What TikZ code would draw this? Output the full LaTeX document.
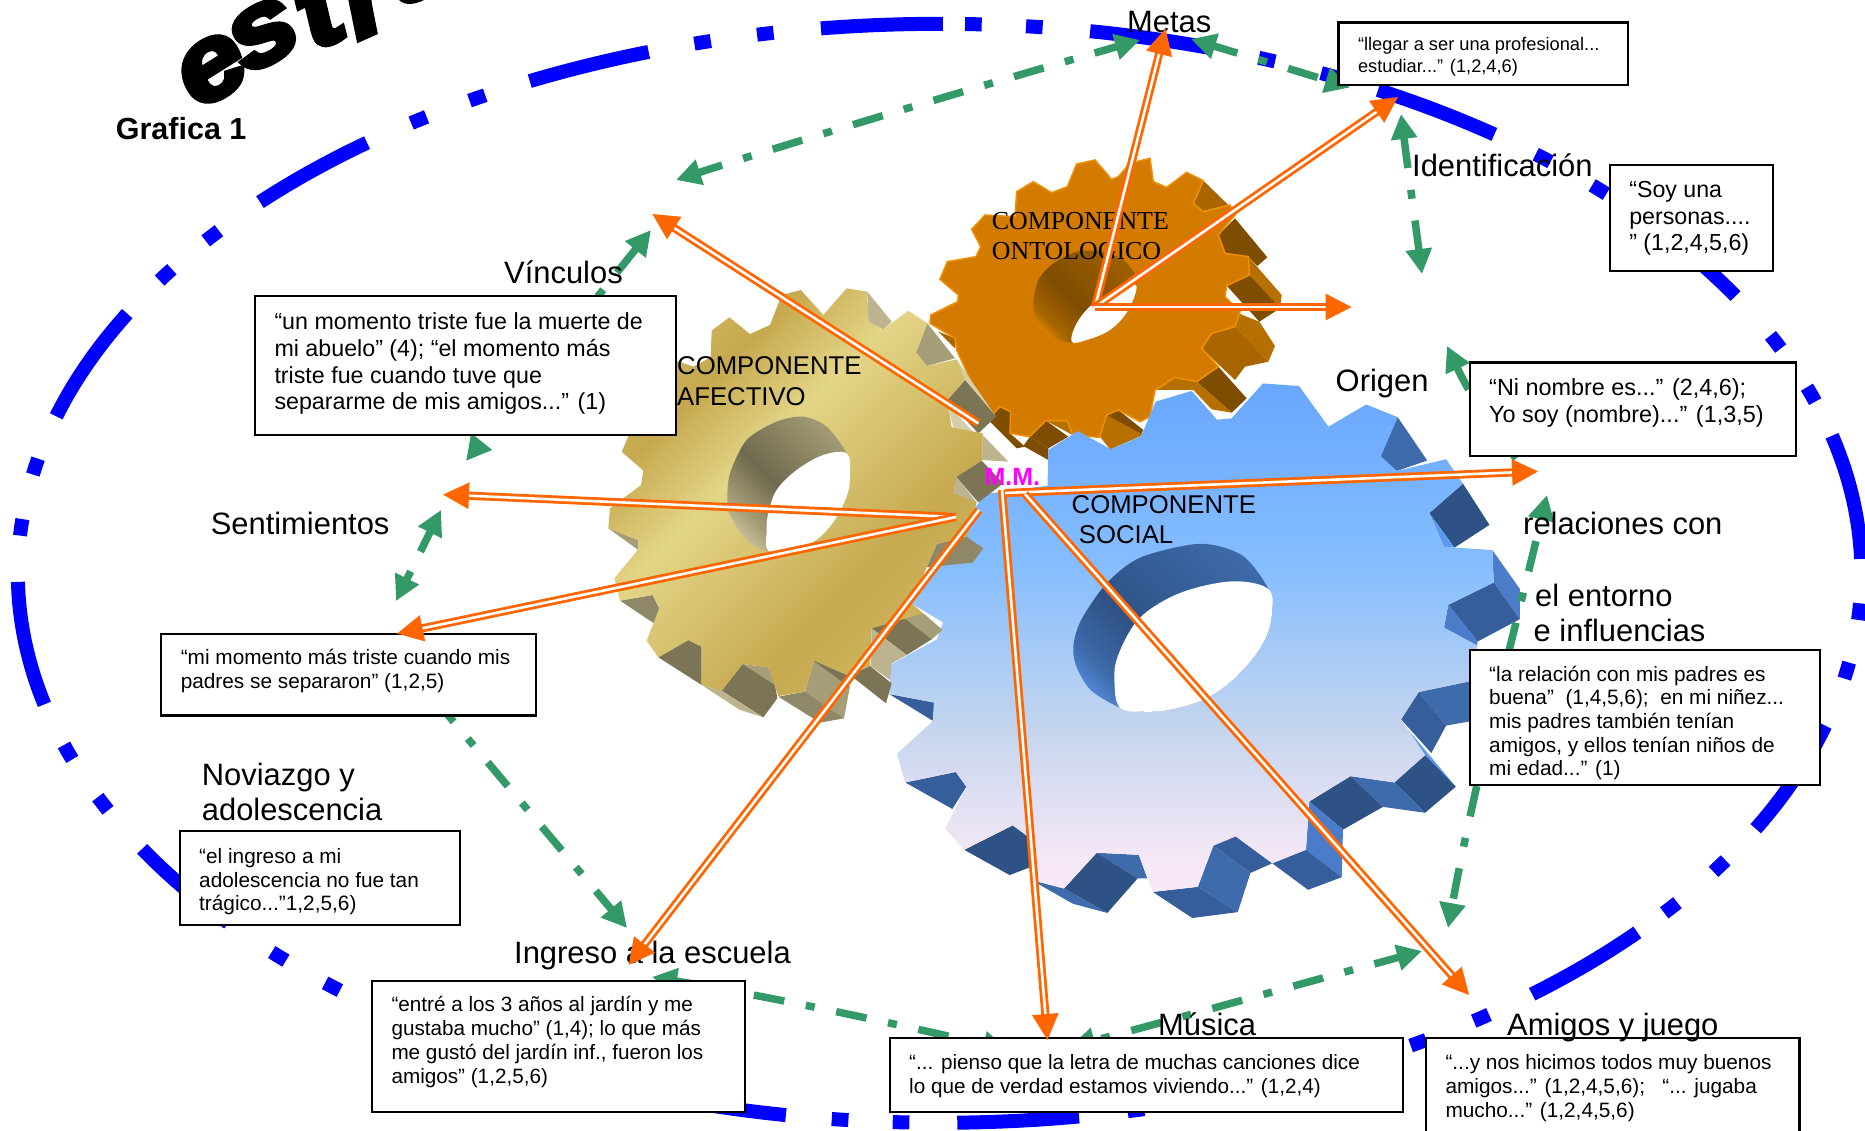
\documentclass[tikz,border=0pt]{standalone}
\usepackage{fontspec}
\setmainfont{Liberation Sans}
\newfontfamily\serifF{Liberation Serif}
\newfontfamily\wordart[BoldItalicFeatures={FakeBold=5}]{Liberation Sans}
\usetikzlibrary{arrows.meta}
\definecolor{ringblue}{HTML}{0000FF}
\definecolor{greenarc}{HTML}{339966}
\definecolor{orangeln}{HTML}{FF6600}
\definecolor{mmcol}{HTML}{FF00FF}
\definecolor{bD}{HTML}{2F5286}
\definecolor{bM}{HTML}{3E6BAB}
\definecolor{bS}{HTML}{365E9A}
\definecolor{bL}{HTML}{4A7CC9}
\definecolor{bX}{HTML}{5B9AF0}
\definecolor{bf1}{HTML}{69A6FF}
\definecolor{bf2}{HTML}{85BEFF}
\definecolor{bf3}{HTML}{C5D5EE}
\definecolor{bf4}{HTML}{F6E8F6}
\definecolor{tD}{HTML}{7C7555}
\definecolor{tM}{HTML}{8F8868}
\definecolor{tN}{HTML}{A59E78}
\definecolor{tL}{HTML}{BDB48F}
\definecolor{tX}{HTML}{D3CDA9}
\definecolor{tf1}{HTML}{C6A94F}
\definecolor{tf2}{HTML}{E3D587}
\definecolor{tf3}{HTML}{D6C26E}
\definecolor{oF}{HTML}{D27B00}
\definecolor{oD}{HTML}{7F4D00}
\definecolor{oM}{HTML}{A86500}
\definecolor{oL}{HTML}{B57000}
\definecolor{oE}{HTML}{F09000}
\definecolor{oW}{HTML}{FF9A00}
\definecolor{tw1}{HTML}{DCD6AF}
\definecolor{tw2}{HTML}{6F6A4E}
\definecolor{tw3}{HTML}{A59E78}
\definecolor{ow2}{HTML}{7F4D00}
\definecolor{ow3}{HTML}{A06000}
\pgfdeclareverticalshading{blueFaceS}{100bp}{color(0bp)=(bf4);color(28bp)=(bf4);color(41bp)=(bf3);color(57bp)=(bf2);color(75bp)=(bf1);color(100bp)=(bf1)}
\pgfdeclareverticalshading{tanFaceS}{100bp}{color(0bp)=(tf3);color(15bp)=(tf3);color(36bp)=(tf1);color(57bp)=(tf2);color(68bp)=(tf1);color(85bp)=(tf3);color(100bp)=(tf3)}
\pgfdeclareverticalshading{blueWallS}{100bp}{color(0bp)=(bX);color(18bp)=(bX);color(28bp)=(bM);color(42bp)=(bD);color(78bp)=(bM);color(100bp)=(bM)}
\pgfdeclareverticalshading{tanWallS}{100bp}{color(0bp)=(tw1);color(18bp)=(tw1);color(30bp)=(tw3);color(46bp)=(tw2);color(78bp)=(tw3);color(100bp)=(tw3)}
\pgfdeclareverticalshading{orWallS}{100bp}{color(0bp)=(oW);color(18bp)=(oW);color(28bp)=(oM);color(44bp)=(ow2);color(78bp)=(ow3);color(100bp)=(ow3)}
\tikzset{
  ringst/.style={draw=ringblue,line width=14pt,line cap=butt},
  arcbase/.style={draw=greenarc,line width=7.5pt},
  arcst/.style={arcbase,dash pattern=on 31pt off 22pt on 9pt off 22pt,dash phase=#1,
     {Triangle[length=25pt,width=25pt]}-{Triangle[length=25pt,width=25pt]}},
  arcone/.style={arcbase,dash pattern=on 31pt off 22pt on 9pt off 22pt,dash phase=#1,
     {Triangle[length=25pt,width=25pt]}-},
  orline/.style={draw=orangeln,line width=2.8pt,double=white,double distance=2.6pt,
     -{Triangle[length=26pt,width=26pt]}},
  lab/.style={anchor=base west,inner sep=0pt,font=\fontsize{30.9}{36}\selectfont},
  comp/.style={anchor=base west,inner sep=0pt,font=\fontsize{25.7}{30}\selectfont},
  compser/.style={anchor=base west,inner sep=0pt,font=\fontsize{25.9}{30}\selectfont\serifF},
  qboxst/.style={draw=black,fill=white,line width=2.2pt,anchor=north west,inner sep=0pt,outer sep=0pt},
  letterst/.style={inner sep=0pt,text height=54pt,text depth=0pt,font=\fontsize{105}{105}\selectfont\wordart\bfseries\itshape}
}
\newcommand{\qbox}[9]{%
  \pgfmathsetmacro\qw{#4-#2}\pgfmathsetmacro\qh{#5-#3}\pgfmathsetmacro\qt{#8+1-#3-0.7*#7}%
  \node[qboxst,minimum width=\qw pt,minimum height=\qh pt] (#1) at (#2,#3)
   {\parbox[c][\qh pt][t]{\qw pt}{\fontsize{#6}{#7}\selectfont\raggedright\leftskip=19.5pt\relax
     \vspace*{\qt pt}\strut #9\strut}};%
}
\begin{document}
\begin{tikzpicture}[x=1pt,y=-1pt]
\useasboundingbox (0,0) rectangle (1865,1131);
\clip (0,0) rectangle (1865,1131);
\fill[white] (0,0) rectangle (1865,1131);

% --- ring
\foreach \a/\b in {196.6/208.2,222.5/231.6,243.6/251.6,262.6/270.2,279.4/287.1,298.4/307,319/329.7,345.5/358.5,376.1/387.7,400.8/410,421.5/429.6,441.3/448.9,459.6/467.6,500.5/509.9,526.2/539.1}{
  \draw[ringst] plot[variable=\t,domain=\a:\b,samples=24]({939.6+921.8*cos(\t)},{573.3+549.5*sin(\t)});
}
\foreach \c in {184.8,191.2,212.9,217.9,235.6,239.9,255.1,259.1,272.1,275.9,290.8,295,310.9,315.7,335.1,341,364,370.2,392.2,397.5,414,418.7,434.1,437.7,452.4,456.2,491.2,495.8,515.2,521}{
  \pgfmathsetmacro\dd{7/(17.45*sqrt((0.775*sin(\c))^2+(0.462*cos(\c))^2))}
  \pgfmathsetmacro\ca{\c-\dd}\pgfmathsetmacro\cb{\c+\dd}
  \draw[ringst] plot[variable=\t,domain=\ca:\cb,samples=3]({939.6+921.8*cos(\t)},{573.3+549.5*sin(\t)});
}

% --- orange gear (traced at 3x from origin 910,140)
\begin{scope}[shift={(910,140)},x=0.33333pt,y=-0.33333pt]
\fill[oM] (880,122)--(955,195)--(880,213)--(850,190)--cycle;
\fill[oD] (925,285)--(975,235)--(1072,352)--(1042,378)--(1015,350)--(945,340)--cycle;
\fill[oL] (1015,350)--(1115,465)--(1110,512)--(1018,405)--cycle;
\fill[oD] (950,437)--(1018,405)--(1110,505)--(1048,545)--cycle;
\fill[oL] (985,520)--(1048,545)--(1095,618)--(1075,665)--(975,560)--cycle;
\fill[oM] (875,625)--(905,580)--(975,560)--(1075,665)--(1005,680)--(975,720)--cycle;
\fill[oD] (860,725)--(925,680)--(1010,775)--(965,818)--cycle;
\fill[oL] (740,750)--(795,712)--(860,725)--(965,818)--(905,808)--(850,750)--cycle;
\fill[oD] (590,825)--(625,810)--(700,870)--(690,890)--cycle;
\fill[oL] (570,890)--(590,825)--(700,885)--(600,928)--cycle;
\fill[oD] (360,890)--(408,842)--(475,890)--(415,925)--cycle;
\fill[oL] (408,842)--(472,842)--(488,885)--cycle;
\fill[oD] (235,840)--(270,800)--(300,815)--(300,880)--(345,920)--(320,925)--cycle;
\fill[oD] (360,890)--(415,925)--(415,960)--(340,918)--cycle;
\fill[oM] (85,575)--(135,595)--(135,625)--cycle;
\filldraw[fill=oF,draw=oE,line width=1.5pt] (320,155)--(370,125)--(425,158)--(472,140)--(500,72)--(555,60)--(605,118)--(625,110)--(660,70)--(720,55)--(730,125)--(770,142)--(830,97)--(880,122)--(850,190)--(880,215)--(960,195)--(975,225)--(925,285)--(945,340)--(1015,350)--(1018,405)--(950,437)--(945,470)--(990,515)--(975,560)--(905,580)--(875,625)--(925,680)--(860,725)--(795,712)--(735,750)--(720,830)--(690,845)--(625,810)--(590,825)--(568,892)--(488,885)--(472,842)--(408,842)--(358,890)--(300,880)--(302,815)--(270,800)--(235,838)--(140,630)--(135,595)--(60,550)--(62,525)--(143,485)--(145,465)--(90,418)--(112,365)--(198,350)--(212,320)--(185,268)--(225,225)--(315,230)--cycle;
\path[shading=orWallS,shading angle=-45] plot[smooth cycle] coordinates {(370,490)(385,420)(430,370)(500,335)(570,335)(640,360)(680,410)(678,440)(655,510)(600,570)(530,600)(480,608)(420,590)(380,545)};
\fill[white] plot[smooth cycle,tension=0.6] coordinates {(678,435)(610,460)(545,495)(500,550)(485,605)(530,600)(600,570)(655,510)};
\end{scope}

% --- blue gear (traced from origin 880,370 at 2.376x)
\begin{scope}[shift={(880,370)},x=0.42088pt,y=-0.42088pt]
\fill[bL] (995,38)--(1065,135)--(1065,143)--(1000,125)--cycle;
\fill[bL] (740,50)--(800,118)--(785,118)--(750,75)--cycle;
\fill[bM] (1230,112)--(1300,215)--(1228,240)--(1187,205)--cycle;
\fill[bD] (1385,270)--(1448,368)--(1365,422)--(1305,340)--cycle;
\fill[bX] (1305,340)--(1365,422)--(1340,420)--cycle;
\fill[bL] (1455,428)--(1520,520)--(1520,592)--(1458,505)--cycle;
\fill[bS] (1458,505)--(1520,592)--(1420,645)--(1350,558)--cycle;
\fill[bL] (1350,558)--(1420,645)--(1418,655)--(1340,612)--cycle;
\fill[bX] (1255,855)--(1368,990)--(1295,915)--cycle;
\fill[bM] (1400,740)--(1280,765)--(1345,845)--(1400,835)--cycle;
\fill[bS] (1280,765)--(1238,830)--(1310,910)--(1345,845)--cycle;
\fill[bD] (1295,915)--(1368,990)--(1295,1052)--(1222,980)--cycle;
\fill[bM] (1222,980)--(1295,1052)--(1195,1038)--(1118,965)--cycle;
\fill[bD] (1118,965)--(1195,1038)--(1100,1092)--(1020,1025)--cycle;
\fill[bL] (1020,1025)--(1100,1092)--(1097,1205)--(1012,1140)--cycle;
\fill[bS] (1012,1140)--(1097,1205)--(1017,1235)--(932,1172)--cycle;
\fill[bS] (845,1108)--(932,1172)--(880,1195)--(792,1130)--cycle;
\fill[bM] (792,1130)--(880,1195)--(850,1288)--(755,1228)--cycle;
\fill[bS] (755,1228)--(850,1288)--(742,1302)--(648,1240)--cycle;
\fill[bM] (515,1147)--(615,1152)--(635,1208)--(612,1208)--cycle;
\fill[bD] (515,1147)--(612,1208)--(540,1290)--(437,1232)--cycle;
\fill[bM] (437,1232)--(540,1290)--(458,1268)--(360,1212)--cycle;
\fill[bD] (315,1082)--(360,1100)--(360,1180)--(308,1200)--(200,1140)--cycle;
\fill[bS] (180,955)--(205,990)--(172,1043)--(60,980)--cycle;
\fill[bS] (22,770)--(128,790)--(128,835)--cycle;
\path[shading=blueFaceS] (400,190)--(470,145)--(548,188)--(620,158)--(655,75)--(740,50)--(800,118)--(835,115)--(910,32)--(995,38)--(1065,135)--(1155,82)--(1230,112)--(1190,205)--(1228,240)--(1345,212)--(1385,270)--(1305,340)--(1340,420)--(1455,428)--(1458,505)--(1350,558)--(1340,612)--(1420,655)--(1400,740)--(1280,765)--(1238,830)--(1295,915)--(1222,980)--(1118,965)--(1020,1025)--(1012,1140)--(932,1172)--(845,1108)--(792,1130)--(755,1228)--(648,1240)--(615,1152)--(515,1147)--(437,1232)--(360,1212)--(360,1115)--(315,1082)--(200,1140)--(155,1090)--(205,990)--(180,955)--(60,980)--(40,912)--(125,835)--(128,790)--(22,770)--(25,700)--(135,640)--(150,600)--(75,555)--(248,295)--(398,275)--cycle;
\path[shading=blueWallS,shading angle=-45] plot[smooth cycle] coordinates {(460,650)(480,590)(540,505)(620,445)(760,413)(860,440)(920,515)(932,570)(915,640)(860,715)(785,775)(700,805)(630,812)(570,802)(500,760)(465,700)};
\fill[white] plot[smooth cycle,tension=0.6] coordinates {(922,520)(850,502)(760,515)(680,545)(610,597)(565,680)(557,740)(570,802)(630,812)(700,805)(785,775)(860,715)(915,640)(932,570)};
\end{scope}

% --- tan gear (traced at 3x from origin 590,270)
\begin{scope}[shift={(590,270)},x=0.33333pt,y=-0.33333pt]
\fill[tX] (632,60)--(700,135)--(660,120)--cycle;
\fill[tL] (832,65)--(905,155)--(880,178)--(835,155)--cycle;
\fill[tN] (1012,160)--(1095,265)--(1010,288)--(978,248)--cycle;
\fill[tX] (1100,268)--(1218,440)--(1125,330)--cycle;
\fill[tD] (1125,330)--(1218,440)--(1165,490)--(1072,390)--cycle;
\fill[tX] (1072,400)--(1150,487)--(1090,472)--cycle;
\fill[tL] (1178,495)--(1255,575)--(1178,570)--cycle;
\fill[tD] (1175,572)--(1240,640)--(1165,697)--(1098,620)--cycle;
\fill[tL] (1098,620)--(1160,697)--(1090,672)--cycle;
\fill[tM] (1040,822)--(1130,800)--(1180,835)--(1148,878)--(1010,892)--cycle;
\fill[tN] (925,1030)--(1000,1030)--(1058,1080)--(1025,1108)--cycle;
\fill[tD] (845,1075)--(925,1030)--(1025,1108)--(950,1155)--cycle;
\fill[tL] (845,1075)--(950,1155)--(905,1180)--(900,1230)--(842,1188)--cycle;
\fill[tD] (840,1188)--(905,1240)--(888,1300)--(780,1215)--cycle;
\fill[tN] (672,1172)--(780,1248)--(762,1345)--(645,1265)--cycle;
\fill[tD] (670,1172)--(712,1150)--(785,1215)--(770,1245)--cycle;
\fill[tM] (645,1265)--(762,1345)--(690,1358)--(565,1280)--cycle;
\fill[tN] (458,1182)--(535,1192)--(555,1245)--cycle;
\fill[tD] (458,1182)--(555,1245)--(562,1285)--(520,1342)--(395,1262)--cycle;
\fill[tL] (395,1262)--(520,1342)--(450,1320)--(335,1245)--cycle;
\fill[tD] (295,1110)--(335,1130)--(335,1245)--(205,1162)--cycle;
\fill[tM] (188,975)--(208,1015)--(192,1060)--(90,992)--cycle;
\fill[tN] (55,775)--(145,810)--(145,840)--cycle;
\path[shading=tanFaceS,shading angle=45] (365,182)--(418,142)--(480,192)--(540,165)--(575,75)--(632,60)--(700,135)--(770,55)--(832,65)--(835,155)--(880,178)--(955,122)--(1012,160)--(978,248)--(1010,288)--(1100,268)--(1125,330)--(1072,390)--(1085,472)--(1178,490)--(1178,570)--(1100,620)--(1090,670)--(1160,697)--(1145,760)--(1130,800)--(1040,822)--(1010,892)--(965,1000)--(1000,1030)--(845,1075)--(840,1188)--(770,1215)--(672,1172)--(645,1265)--(565,1278)--(535,1192)--(458,1182)--(395,1262)--(335,1245)--(335,1130)--(295,1110)--(205,1162)--(170,1112)--(208,1015)--(188,975)--(90,992)--(73,925)--(145,838)--(145,810)--(55,775)--(60,715)--(153,645)--(160,602)--(95,545)--(150,420)--(200,285)--(258,272)--(310,290)--(362,262)--cycle;
\path[shading=tanWallS,shading angle=-45] plot[smooth cycle] coordinates {(412,690)(420,610)(470,510)(560,455)(640,440)(710,470)(770,550)(780,610)(770,680)(720,770)(650,825)(540,845)(470,810)(420,735)};
\fill[white] plot[smooth cycle,tension=0.6] coordinates {(770,550)(700,555)(620,600)(560,660)(535,730)(530,780)(540,845)(650,825)(720,770)(770,680)(780,610)};
\end{scope}

% --- WordArt letters
\node[letterst,rotate=32] (wa1) at (213,70) {\scalebox{1.15}[1]{e}};
\node[letterst,rotate=29] (wa2) at (264,35) {\scalebox{1.15}[1]{s}};
\node[letterst,rotate=26] (wa3) at (321,18) {\scalebox{1.15}[1]{t}};
\node[letterst,rotate=24] (wa4) at (368,6) {\scalebox{1.15}[1]{r}};
\node[letterst,rotate=22] (wa5) at (422,-32) {\scalebox{1.15}[1]{u}};

% --- green arcs
\coordinate (gA1) at (676,180); \coordinate (gA2) at (1140,40);
\draw[arcst=6] (gA1) .. controls (790,143) and (980,86) .. (gA2);
\coordinate (gB1) at (1191,39); \coordinate (gB2) at (1350,87.5);
\draw[arcst=6] (gB1) .. controls (1240,54) and (1300,72) .. (gB2);
\coordinate (gC1) at (1401,114); \coordinate (gC2) at (1422,274);
\draw[arcst=0] (gC1) .. controls (1408,170) and (1415,220) .. (gC2);
\coordinate (gD1) at (1447,346); \coordinate (gD2) at (1526,470);
\draw[arcone=6] (gD1) .. controls (1470,395) and (1495,435) .. (gD2);
\coordinate (gE1) at (1547,495); \coordinate (gE2) at (1448,928);
\draw[arcst=60] (gE1) .. controls (1510,650) and (1475,780) .. (gE2);
\coordinate (gF1) at (1422,951); \coordinate (gF2) at (1070,1047);
\draw[arcst=5] (gF1) .. controls (1300,984) and (1190,1015) .. (gF2);
\coordinate (gG1) at (652,977); \coordinate (gG2) at (1008,1050);
\draw[arcst=4] (gG1) .. controls (760,995) and (880,1020) .. (gG2);
\coordinate (gH1) at (627,928); \coordinate (gH2) at (395,652);
\draw[arcone=6] (gH1) -- (gH2);
\coordinate (gI1) at (441,510); \coordinate (gI2) at (396,601);
\draw[arcst=8] (gI1) -- (gI2);
\coordinate (gJ1) at (651,230); \coordinate (gJ2) at (466,461);
\draw[arcst=0] (gJ1) -- (gJ2);

% --- boxes
\qbox{b1}{255}{296}{676}{435}{23.25}{26.7}{328.6}{“un momento triste fue la muerte de\\mi abuelo” (4); “el momento más\\triste fue cuando tuve que\\separarme de mis amigos...” (1)}
\qbox{b2}{161.3}{633.6}{535.6}{715.5}{20.8}{23.7}{663.8}{“mi momento más triste cuando mis\\padres se separaron” (1,2,5)}
\qbox{b3}{179.7}{831.3}{460}{925.3}{20.8}{23.7}{862.3}{“el ingreso a mi\\adolescencia no fue tan\\trágico...”1,2,5,6)}
\qbox{b4}{372}{981.3}{745}{1112}{20.7}{24}{1010.8}{“entré a los 3 años al jardín y me\\gustaba mucho” (1,4); lo que más\\me gustó del jardín inf., fueron los\\amigos” (1,2,5,6)}
\qbox{b5}{889.7}{1038}{1403}{1111.7}{20.7}{24}{1068}{“... pienso que la letra de muchas canciones dice\\lo que de verdad estamos viviendo...” (1,2,4)}
\qbox{b6}{1426}{1038}{1799.4}{1140}{20.8}{24}{1068}{“...y nos hicimos todos muy buenos\\amigos...” (1,2,4,5,6);\ \ \ “... jugaba\\mucho...” (1,2,4,5,6)}
\qbox{b7}{1469.7}{650}{1819.7}{785}{20.8}{23.7}{680}{“la relación con mis padres es\\buena”\ \ (1,4,5,6);\ \ en mi niñez...\\mis padres también tenían\\amigos, y ellos tenían niños de\\mi edad...” (1)}
\qbox{b8}{1469.7}{362.5}{1796}{456}{23.4}{26.8}{394.6}{“Ni nombre es...” (2,4,6);\\Yo soy (nombre)...” (1,3,5)}
\qbox{b9}{1609.8}{165}{1772.6}{271.4}{23.2}{26.8}{196.4}{“Soy una\\personas....\\” (1,2,4,5,6)}
\qbox{b10}{1338.5}{22.5}{1627.7}{85}{18.25}{21.2}{50}{“llegar a ser una profesional...\\estudiar...” (1,2,4,6)}

% --- labels
\node[lab] (lMetas) at (1127,33) {Metas};
\node[lab] (lIdent) at (1412,176.7) {Identificación};
\node[lab] (lOrigen) at (1335.5,391.5) {Origen};
\node[lab] (lRel) at (1523,534) {relaciones con};
\node[lab] (lEnt) at (1535,606.5) {el entorno};
\node[lab] (lInf) at (1533.5,641) {e influencias};
\node[lab] (lAmi) at (1507,1035.5) {Amigos y juego};
\node[lab] (lMus) at (1158,1035.5) {Música};
\node[lab] (lIng) at (514,963.4) {Ingreso a la escuela};
\node[lab] (lNov) at (201.7,785.7) {Noviazgo y};
\node[lab] (lAdo) at (201.7,820.3) {adolescencia};
\node[lab] (lSen) at (210.6,534) {Sentimientos};
\node[lab] (lVin) at (504,284) {Vínculos};
\node[lab,font=\fontsize{30.5}{36}\selectfont\bfseries] (lGra) at (115.7,140) {Grafica 1};
\node[comp] (cA1) at (677,374.5) {COMPONENTE};
\node[comp] (cA2) at (677,405.5) {AFECTIVO};
\node[compser] (cO1) at (991.7,229.8) {COMPONENTE};
\node[compser] (cO2) at (991.7,259.8) {ONTOLOGICO};
\node[comp] (cS1) at (1071.5,513.5) {COMPONENTE};
\node[comp] (cS2) at (1078.7,543.9) {SOCIAL};
\node[anchor=base west,inner sep=0pt,font=\fontsize{25}{30}\selectfont\bfseries,text=mmcol] (mm) at (984.4,485) {M.M.};

% --- orange double arrows
\coordinate (oO) at (1095,307);
\coordinate (oO1) at (1165.5,28.6); \coordinate (oO2) at (1398,97); \coordinate (oO3) at (1351.6,307);
\draw[orline] (oO) -- (oO1);
\draw[orline] (oO) -- (oO2);
\draw[orline] (oO) -- (oO3);
\coordinate (oT) at (956,517);
\coordinate (oT1) at (443,494.6); \coordinate (oT2) at (397,633.6);
\draw[orline] (oT) -- (oT1);
\draw[orline] (oT) -- (oT2);
\coordinate (oU) at (978.3,423.3); \coordinate (oU1) at (652.4,214);
\draw[orline] (oU) -- (oU1);
\coordinate (oV) at (979,510); \coordinate (oV1) at (628.7,965);
\draw[orline] (oV) -- (oV1);
\coordinate (oS) at (1002,490); \coordinate (oS1) at (1047.5,1040);
\draw[orline] (oS) -- (oS1);
\coordinate (oR) at (1005,493); \coordinate (oR1) at (1538,471.4);
\draw[orline] (oR) -- (oR1);
\coordinate (oA) at (1025,494); \coordinate (oA1) at (1469,995);
\draw[orline] (oA) -- (oA1);
\end{tikzpicture}
\end{document}
